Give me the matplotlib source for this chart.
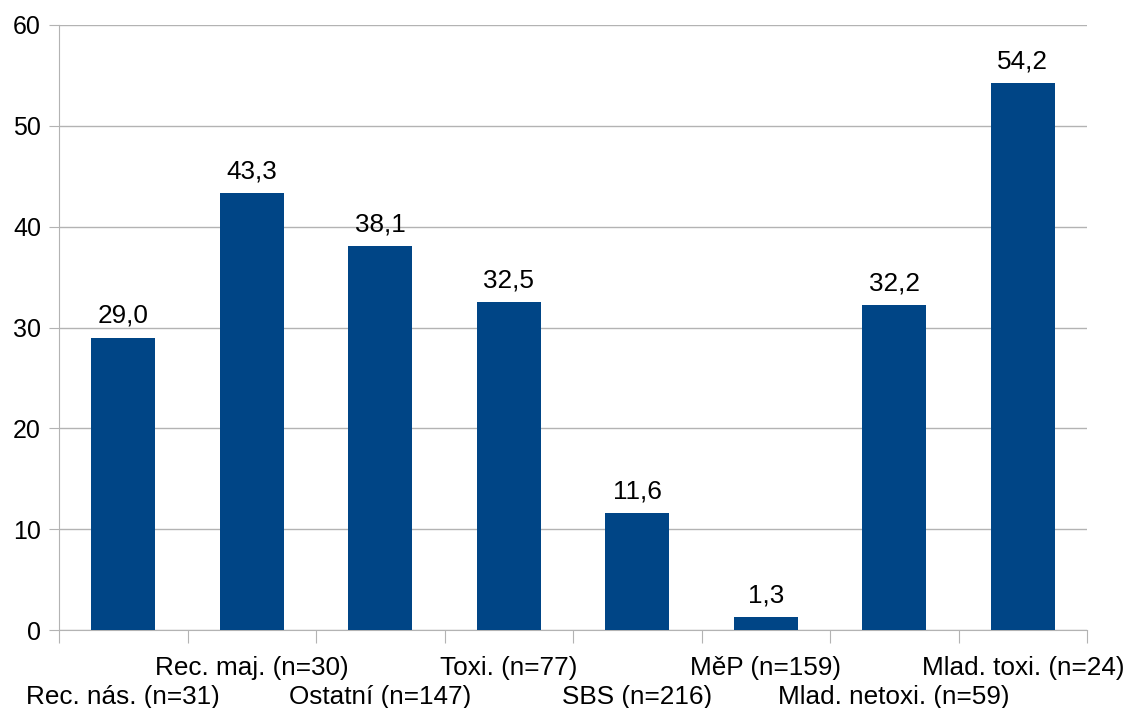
import numpy as np
import matplotlib
matplotlib.use("Agg")
import matplotlib.pyplot as plt

# data
kategorie = ["Rec. nás. (n=31)", "Rec. maj. (n=30)", "Ostatní (n=147)", "Toxi. (n=77)",
             "SBS (n=216)", "MěP (n=159)", "Mlad. netoxi. (n=59)", "Mlad. toxi. (n=24)"]
hodnoty = [29.0, 43.3, 38.1, 32.5, 11.6, 1.3, 32.2, 54.2]

plt.rcParams['font.family'] = ['Liberation Sans', 'DejaVu Sans']
plt.rcParams['font.size'] = 18

fig = plt.figure(figsize=(11.27, 7.08), dpi=100)
ax = fig.add_axes([59/1127, 1-630/708, (1087-59)/1127, (630-25)/708])

x = np.arange(len(kategorie))
bars = ax.bar(x, hodnoty, width=0.5, color="#004586", zorder=3)
ax.bar_label(bars, labels=[f"{v:.1f}".replace(".", ",") for v in hodnoty],
             padding=7, fontsize=18.8)

ax.set_xlim(-0.5, len(kategorie) - 0.5)
ax.set_ylim(0, 60)
ax.set_yticks(range(0, 61, 10))
ax.yaxis.grid(True, color="#b3b3b3", linewidth=1, zorder=0)

# tick marks on category boundaries, labels staggered in two rows
ax.set_xticks(np.arange(-0.5, len(kategorie)), labels=[])
for i, k in enumerate(kategorie):
    posun = -53.3 if i % 2 == 0 else -32.4
    ax.annotate(k, xy=(i, 0), xytext=(0, posun), textcoords="offset points",
                ha="center", va="baseline", fontsize=18.8, annotation_clip=False)
ax.tick_params(axis="x", which="major", length=9, color="#b3b3b3")
ax.tick_params(axis="y", length=7, color="#b3b3b3", pad=6)

for s in ["top", "right"]:
    ax.spines[s].set_visible(False)
for s in ["left", "bottom"]:
    ax.spines[s].set_color("#b3b3b3")

fig.savefig("out.png", dpi=100)
